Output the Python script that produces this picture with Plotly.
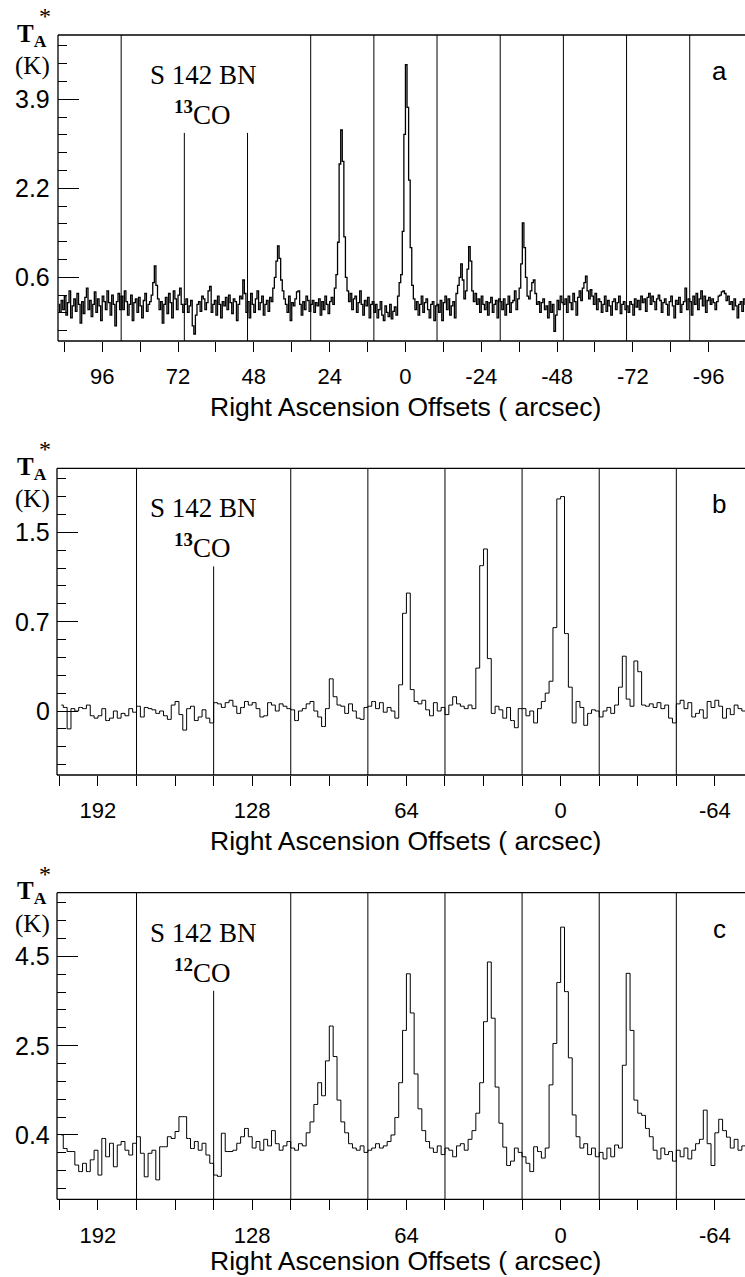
import plotly.graph_objects as go

FIG_W, FIG_H = 745, 1277

# ---------------- data : panel a (13CO, fine sampling) ----------------
a_centers = [100, 80, 60, 40, 20, 0, -20, -40, -60, -80, -100]
a_box_width = 20
a_spectra = [
    [0.05,-0.10,0.12,-0.05,0.20,-0.15,0.08,0.30,-0.20,0.02,0.15,-0.08,0.25,0.05,-0.30,0.10,-0.12,0.18,0.35,-0.05,
     0.12,-0.18,0.05,0.28,-0.10,0.15,0.02,-0.25,0.20,0.10,-0.05,0.30,0.08,-0.15,0.22,0.05,-0.35,0.10,0.25,-0.05],
    [0.20,-0.05,0.30,0.10,-0.15,0.05,0.22,-0.25,0.08,0.15,-0.10,0.18,0.02,-0.20,0.12,0.25,-0.08,0.05,0.10,0.22,
     0.45,0.76,0.40,0.15,-0.05,0.10,-0.30,0.05,0.18,-0.12,0.25,0.08,-0.20,0.30,0.15,-0.05,0.22,0.35,0.05,-0.10],
    [0.05,0.15,-0.10,0.02,0.12,-0.35,-0.50,-0.15,0.05,0.10,-0.08,0.20,0.15,-0.05,0.08,0.30,0.38,-0.10,0.05,0.12,
     -0.15,0.20,0.05,-0.20,0.10,0.02,0.18,-0.05,0.22,0.08,-0.12,0.15,0.10,-0.25,0.05,0.20,0.15,0.50,0.25,-0.10],
    [0.10,-0.20,0.25,0.05,-0.10,0.15,0.30,-0.05,0.08,0.20,-0.15,0.05,0.12,-0.08,0.18,0.10,0.35,0.55,0.85,1.13,
     0.90,0.50,0.30,0.15,0.05,-0.10,0.20,-0.25,0.08,0.02,0.15,0.28,0.30,0.05,-0.15,0.10,-0.05,0.20,0.12,-0.08],
    [0.05,0.12,-0.10,0.08,0.02,0.15,-0.15,0.10,-0.05,0.20,0.05,-0.12,0.10,0.18,0.05,0.35,0.60,1.20,2.65,3.28,
     2.70,1.30,0.55,0.30,0.10,0.25,-0.05,0.15,0.20,-0.10,0.08,0.30,0.05,-0.15,0.12,0.02,0.18,-0.20,0.05,0.10],
    [-0.10,0.05,-0.20,-0.05,0.10,-0.15,-0.25,0.02,-0.10,-0.18,0.05,-0.22,-0.08,0.00,-0.15,0.20,0.45,0.60,1.40,3.20,
     4.49,3.70,2.35,1.10,0.40,0.15,-0.05,0.10,-0.15,0.05,0.20,-0.10,0.08,0.15,-0.05,-0.20,0.05,0.10,-0.25,0.02],
    [0.05,-0.10,0.12,-0.25,0.08,0.20,-0.05,0.15,-0.15,0.02,0.10,-0.20,0.25,0.40,0.55,0.80,0.50,0.15,0.30,0.70,
     1.12,0.85,0.30,0.10,0.25,0.05,0.15,-0.10,0.20,0.05,-0.05,0.10,-0.15,0.08,0.18,-0.10,0.05,0.12,-0.20,0.15],
    [0.10,-0.05,0.15,-0.15,0.05,0.20,-0.10,0.08,0.12,0.30,-0.05,0.15,0.35,0.80,1.56,1.10,0.55,0.20,0.15,0.30,
     0.45,0.50,0.25,0.05,0.10,-0.10,0.08,0.15,-0.05,0.02,-0.20,0.10,-0.10,0.05,-0.45,-0.15,0.12,-0.05,0.20,0.08],
    [0.05,0.15,-0.10,0.20,0.08,-0.05,0.25,0.10,-0.15,0.18,0.30,0.12,0.35,0.45,0.57,0.30,0.15,0.32,0.20,0.05,
     0.25,-0.05,0.15,0.10,-0.10,0.05,0.20,-0.08,0.12,0.02,-0.15,0.10,0.15,-0.05,0.08,0.20,-0.12,0.05,0.10,-0.05],
    [0.02,-0.10,0.10,0.05,-0.15,0.15,0.00,0.12,-0.05,0.20,0.08,0.15,-0.08,0.18,0.25,0.05,0.20,0.10,-0.05,0.15,
     0.22,0.12,-0.10,0.08,0.15,0.05,-0.15,0.10,0.20,0.02,-0.20,0.12,0.05,0.18,-0.10,0.05,0.10,0.35,-0.05,0.15],
    [0.10,-0.15,0.20,0.05,0.25,-0.05,0.15,0.30,0.02,0.20,-0.10,0.12,0.18,0.05,0.15,0.08,-0.05,0.10,0.20,0.22,
     0.28,0.30,0.25,0.12,0.20,0.05,0.10,-0.05,0.15,0.02,-0.20,0.05,0.10,-0.08,0.15,0.05,-0.10,0.08,0.12,0.00],
]
a_xticks = [96, 72, 48, 24, 0, -24, -48, -72, -96]
a_xticktext = ["96", "72", "48", "24", "0", "-24", "-48", "-72", "-96"]
a_long_xticks = [60, 0, -60]
a_minor_dx = 12
a_yticks = [0.55, 2.2, 3.85]
a_yticktext = ["0.6", "2.2", "3.9"]
a_minor_dy = 0.33
a_xrange = [110, -107.5]
a_yrange = [-0.63, 5.04]

# ---------------- data : panel b (13CO) ----------------
b_centers = [192, 160, 128, 96, 64, 32, 0, -32, -64]
b_box_width = 32
b_spectra = [
    [0.05,0.03,-0.15,0.02,0.00,0.03,0.02,0.05,-0.04,-0.06,-0.04,0.02,-0.08,-0.06,0.00,-0.06,-0.02,-0.04,0.02,-0.01],
    [0.04,-0.05,0.03,0.02,0.01,-0.02,0.00,-0.04,-0.07,0.05,0.08,-0.03,-0.16,0.02,0.04,-0.08,-0.05,0.01,-0.06,-0.10],
    [0.07,0.06,0.03,0.07,0.09,0.04,-0.02,0.03,0.08,0.05,0.07,0.02,-0.05,-0.04,0.07,0.05,0.00,0.06,0.04,0.02],
    [0.01,-0.08,0.00,0.02,0.06,0.08,0.00,-0.05,-0.13,0.02,0.27,0.12,0.05,0.04,-0.02,0.06,0.00,-0.06,-0.07,0.03],
    [0.04,0.08,0.02,0.07,-0.01,0.03,0.00,-0.06,0.22,0.82,0.99,0.18,0.08,0.06,0.09,0.01,-0.04,0.07,0.00,0.03],
    [-0.03,0.05,0.12,0.06,0.04,0.02,0.05,0.02,0.36,1.22,1.36,0.44,-0.02,0.04,0.01,-0.06,0.03,-0.08,-0.14,0.02],
    [0.02,-0.04,0.00,-0.10,0.02,0.08,0.15,0.25,0.70,1.78,1.80,0.65,0.20,-0.10,0.08,0.03,-0.12,-0.02,0.01,0.00],
    [-0.05,0.00,0.03,-0.02,0.05,0.20,0.46,0.10,0.04,0.42,0.33,0.05,0.04,0.06,0.03,0.07,0.02,0.05,-0.06,-0.10],
    [0.06,0.09,0.02,0.07,-0.05,-0.02,0.01,-0.06,0.08,0.03,0.09,0.04,-0.06,0.02,-0.03,0.05,0.02,0.00,0.04,-0.02],
]
b_xticks = [192, 128, 64, 0, -64]
b_xticktext = ["192", "128", "64", "0", "-64"]
b_long_xticks = [160, 80, 0, -80]
b_minor_dx = 16
b_yticks = [0.0, 0.75, 1.5]
b_yticktext = ["0", "0.7", "1.5"]
b_minor_dy = 0.15
b_xrange = [209, -76.5]
b_yrange = [-0.537, 2.037]

# ---------------- data : panel c (12CO) ----------------
c_centers = [192, 160, 128, 96, 64, 32, 0, -32, -64]
c_box_width = 32
c_spectra = [
    [0.40,0.09,0.02,0.02,-0.29,-0.44,-0.25,-0.44,-0.17,0.05,-0.52,0.32,-0.10,0.21,-0.33,0.17,0.25,0.05,-0.06,0.21],
    [0.36,-0.02,-0.56,-0.02,0.05,-0.63,0.13,0.13,0.36,0.32,0.48,0.82,0.82,0.32,0.09,0.25,0.05,0.21,-0.06,-0.25],
    [-0.52,-0.55,0.44,0.02,0.02,0.05,0.21,0.36,0.55,0.36,0.10,0.25,0.05,0.30,0.15,0.50,0.20,0.05,0.15,0.25],
    [0.10,0.05,0.20,0.15,0.45,0.70,1.10,1.60,1.30,2.10,2.90,2.20,1.20,0.70,0.45,0.20,0.10,0.05,0.15,0.00],
    [0.05,0.10,0.20,0.10,0.15,0.25,0.40,0.80,1.60,2.80,4.10,3.20,1.80,1.00,0.50,0.25,0.10,0.00,0.15,-0.05],
    [0.10,0.05,-0.10,0.15,0.20,0.05,0.30,0.50,0.90,1.60,3.00,4.37,3.08,1.50,0.67,0.12,-0.30,-0.20,0.10,0.00],
    [-0.10,-0.25,-0.44,0.13,0.02,-0.13,0.10,1.55,2.50,3.90,5.17,3.69,2.17,0.86,0.36,0.10,0.20,-0.05,0.10,-0.10],
    [0.00,-0.15,0.10,-0.10,0.17,0.10,2.00,4.11,2.80,1.20,0.90,0.85,0.55,0.36,0.05,-0.15,0.10,-0.05,0.02,-0.20],
    [0.05,-0.10,0.10,-0.15,0.05,0.20,0.30,0.97,0.20,-0.30,0.45,0.76,0.50,0.35,0.10,0.30,0.05,0.15,0.00,0.10],
]
c_xticks = [192, 128, 64, 0, -64]
c_xticktext = ["192", "128", "64", "0", "-64"]
c_long_xticks = [160, 80, 0, -80]
c_minor_dx = 16
c_yticks = [0.4, 2.45, 4.5]
c_yticktext = ["0.4", "2.5", "4.5"]
c_minor_dy = 0.41
c_xrange = [209, -76.5]
c_yrange = [-1.076, 5.96]

panel_letters = ["a", "b", "c"]
source_name = "S 142 BN"
line_names = ["<b><sup>13</sup></b>CO", "<b><sup>13</sup></b>CO", "<b><sup>12</sup></b>CO"]
x_title = "Right Ascension Offsets ( arcsec)"

# ---------------- layout geometry (pixels) ----------------
frames = [(58, 35, 341), (57, 468.3, 775), (57, 892.7, 1199.3)]   # (left, top, bottom)
title_offset = [66, 66, 61.7]
label_span = [(82, 47), (171, 126), (171, 126)]   # arcsec span covered by the source label
label_cut = 0.68                                   # separators under the label stop here
ylabel_right = 52                                  # right edge of the y tick labels (px)

SANS = "Liberation Sans"
SERIF = "Liberation Serif"


def px_x(x):
    return x / FIG_W


def px_y(y):
    return 1 - y / FIG_H


def channel_x(centers, width, spectra):
    xs, ys = [], []
    for c, spec in zip(centers, spectra):
        n = len(spec)
        for i, v in enumerate(spec):
            xs.append(c + width / 2 - (i + 0.5) * width / n)
            ys.append(v)
    return xs, ys


panels = [
    dict(centers=a_centers, width=a_box_width, spectra=a_spectra, xticks=a_xticks, xtext=a_xticktext,
         longx=a_long_xticks, mdx=a_minor_dx, yticks=a_yticks, ytext=a_yticktext, mdy=a_minor_dy,
         xr=a_xrange, yr=a_yrange, lw=1.3),
    dict(centers=b_centers, width=b_box_width, spectra=b_spectra, xticks=b_xticks, xtext=b_xticktext,
         longx=b_long_xticks, mdx=b_minor_dx, yticks=b_yticks, ytext=b_yticktext, mdy=b_minor_dy,
         xr=b_xrange, yr=b_yrange, lw=1.0),
    dict(centers=c_centers, width=c_box_width, spectra=c_spectra, xticks=c_xticks, xtext=c_xticktext,
         longx=c_long_xticks, mdx=c_minor_dx, yticks=c_yticks, ytext=c_yticktext, mdy=c_minor_dy,
         xr=c_xrange, yr=c_yrange, lw=1.0),
]

fig = go.Figure()
layout = dict(
    width=FIG_W, height=FIG_H, margin=dict(l=0, r=0, t=0, b=0),
    paper_bgcolor="white", plot_bgcolor="white", showlegend=False,
)
shapes, annotations = [], []


def aname(letter, n):
    return f"{letter}axis" if n == 1 else f"{letter}axis{n}"


def aref(letter, n):
    return letter if n == 1 else f"{letter}{n}"


xtickfont = dict(family=SANS, size=22, color="black")
ytickfont = dict(family=SANS, size=25, color="black")

for p, P in enumerate(panels):
    left, top, bottom = frames[p]
    xd = [px_x(left), 1.0]
    yd = [px_y(bottom), px_y(top)]
    xm, ym = p + 1, p + 1
    xlong, xtop, yright = 4 + 2 * p, 5 + 2 * p, 4 + p

    xs, ys = channel_x(P["centers"], P["width"], P["spectra"])
    fig.add_trace(go.Scatter(x=xs, y=ys, mode="lines",
                             line=dict(color="black", width=P["lw"], shape="hvh"),
                             xaxis=aref("x", xm), yaxis=aref("y", ym), hoverinfo="skip"))

    common = dict(showgrid=False, zeroline=False, showline=False, fixedrange=True)
    layout[aname("x", xm)] = dict(
        common, domain=xd, range=P["xr"], anchor=aref("y", ym), side="bottom",
        tickmode="array", tickvals=P["xticks"], ticktext=P["xtext"],
        ticks="outside", ticklen=10, tickwidth=1, tickcolor="black",
        tickfont=xtickfont, ticklabelstandoff=6,
        minor=dict(dtick=P["mdx"], tick0=0, ticks="outside", ticklen=10, tickwidth=1, tickcolor="black"),
    )
    layout[aname("x", xlong)] = dict(
        common, domain=xd, range=P["xr"], anchor=aref("y", ym), overlaying=aref("x", xm), side="bottom",
        tickmode="array", tickvals=P["longx"], showticklabels=False,
        ticks="outside", ticklen=20, tickwidth=1, tickcolor="black",
    )
    layout[aname("x", xtop)] = dict(
        common, domain=xd, range=P["xr"], anchor=aref("y", ym), overlaying=aref("x", xm), side="top",
        tickmode="array", tickvals=P["longx"], showticklabels=False,
        ticks="inside", ticklen=19, tickwidth=1, tickcolor="black",
        minor=dict(dtick=P["mdx"], tick0=0, ticks="inside", ticklen=10, tickwidth=1, tickcolor="black"),
    )
    layout[aname("y", ym)] = dict(
        common, domain=yd, range=P["yr"], anchor=aref("x", xm), side="left",
        tickmode="array", tickvals=P["yticks"], showticklabels=False,
        ticks="inside", ticklen=21, tickwidth=1, tickcolor="black",
        minor=dict(dtick=P["mdy"], tick0=P["yticks"][0], ticks="inside", ticklen=9, tickwidth=1,
                   tickcolor="black"),
    )
    layout[aname("y", yright)] = dict(
        common, domain=yd, range=P["yr"], anchor=aref("x", xm), overlaying=aref("y", ym), side="right",
        tickmode="array", tickvals=P["yticks"], showticklabels=False,
        ticks="inside", ticklen=13, tickwidth=1, tickcolor="black",
    )

    xr_, yr_ = aref("x", xm), aref("y", ym)
    # frame (left, top, bottom) - the right edge lies outside the page
    for (x0, y0, x1, y1) in [(0, 0, 0, 1), (0, 1, 1.05, 1), (0, 0, 1.05, 0)]:
        shapes.append(dict(type="line", xref=f"{xr_} domain", yref=f"{yr_} domain",
                           x0=x0, y0=y0, x1=x1, y1=y1, line=dict(color="black", width=1.3)))
    # separators between neighbouring spectra
    hi, lo = label_span[p]
    for c in P["centers"][:-1]:
        sx = c - P["width"] / 2
        ytop = label_cut if lo <= sx <= hi else 1
        shapes.append(dict(type="line", xref=xr_, yref=f"{yr_} domain",
                           x0=sx, x1=sx, y0=0, y1=ytop, line=dict(color="black", width=1)))

    # y tick labels, placed on the y scale of the panel
    for v, t in zip(P["yticks"], P["ytext"]):
        annotations.append(dict(text=t, x=px_x(ylabel_right), y=v, xref="paper", yref=yr_,
                                showarrow=False, xanchor="right", yanchor="middle",
                                font=ytickfont))

    annotations += [
        dict(text=source_name, x=px_x(203), y=px_y(top + 40), xref="paper", yref="paper",
             showarrow=False, xanchor="center", yanchor="middle",
             font=dict(family=SERIF, size=27, color="black")),
        dict(text=line_names[p], x=px_x(202), y=px_y(top + 78), xref="paper", yref="paper",
             showarrow=False, xanchor="center", yanchor="middle",
             font=dict(family=SERIF, size=27, color="black")),
        dict(text=panel_letters[p], x=px_x(719), y=px_y(top + 36), xref="paper", yref="paper",
             showarrow=False, xanchor="center", yanchor="middle",
             font=dict(family=SANS, size=26, color="black")),
        dict(text="<b>T<sub>A</sub></b>", x=px_x(15), y=px_y(top), xref="paper", yref="paper",
             showarrow=False, xanchor="left", yanchor="middle",
             font=dict(family=SERIF, size=25, color="black")),
        dict(text="*", x=px_x(45), y=px_y(top - 19), xref="paper", yref="paper",
             showarrow=False, xanchor="center", yanchor="middle",
             font=dict(family=SERIF, size=24, color="black")),
        dict(text="(K)", x=px_x(32), y=px_y(top + 31), xref="paper", yref="paper",
             showarrow=False, xanchor="center", yanchor="middle",
             font=dict(family=SERIF, size=25, color="black")),
        dict(text=x_title, x=px_x(405), y=px_y(bottom + title_offset[p]), xref="paper", yref="paper",
             showarrow=False, xanchor="center", yanchor="middle",
             font=dict(family=SANS, size=26.5, color="black")),
    ]

layout["shapes"] = shapes
layout["annotations"] = annotations
fig.update_layout(**layout)
fig.write_html("out.html")
